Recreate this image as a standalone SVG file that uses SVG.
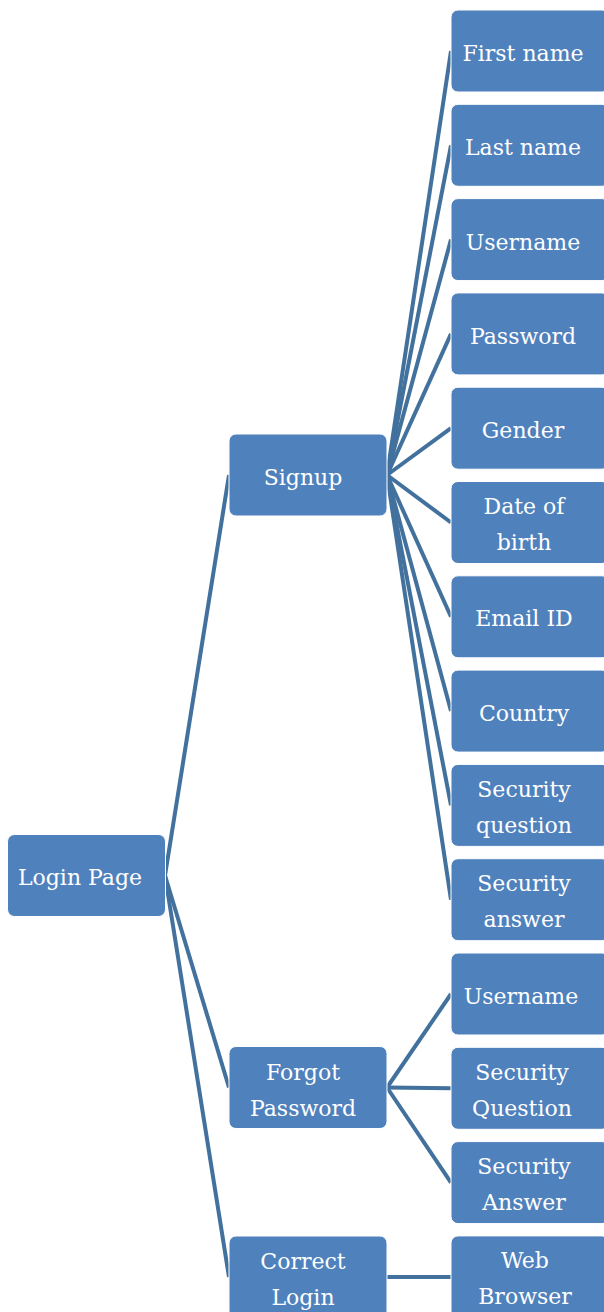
<svg xmlns="http://www.w3.org/2000/svg" width="604" height="1312" viewBox="0 0 604 1312">
<style>
.box{fill:#4F81BD;stroke:#FFFFFF;stroke-width:1}
.t{font-family:"DejaVu Serif","Liberation Serif",serif;font-size:22px;fill:#FFFFFF;text-anchor:middle}
.c{stroke:#41719C;stroke-width:4;fill:none}
</style>
<rect width="604" height="1312" fill="#FFFFFF"/>
<g id="connectors">
<line class="c" x1="165" y1="875.5" x2="229" y2="475"/>
<line class="c" x1="165" y1="875.5" x2="229" y2="1087.5"/>
<line class="c" x1="165" y1="875.5" x2="229" y2="1277"/>
<line class="c" x1="387" y1="475" x2="451" y2="51"/>
<line class="c" x1="387" y1="475" x2="451" y2="145.3"/>
<line class="c" x1="387" y1="475" x2="451" y2="239.6"/>
<line class="c" x1="387" y1="475" x2="451" y2="333.9"/>
<line class="c" x1="387" y1="475" x2="451" y2="428.2"/>
<line class="c" x1="387" y1="475" x2="451" y2="522.5"/>
<line class="c" x1="387" y1="475" x2="451" y2="616.8"/>
<line class="c" x1="387" y1="475" x2="451" y2="711.1"/>
<line class="c" x1="387" y1="475" x2="451" y2="805.4"/>
<line class="c" x1="387" y1="475" x2="451" y2="899.7"/>
<line class="c" x1="387" y1="1087.5" x2="451" y2="994"/>
<line class="c" x1="387" y1="1087.5" x2="451" y2="1088.3"/>
<line class="c" x1="387" y1="1087.5" x2="451" y2="1182.6"/>
<line class="c" x1="387" y1="1277" x2="451" y2="1277"/>
</g>
<g id="login-page"><rect class="box" x="7.5" y="834.5" width="158" height="82" rx="7"/><text class="t" x="80" y="885">Login Page</text></g>
<g id="signup"><rect class="box" x="229" y="434" width="158" height="82" rx="7"/><text class="t" x="303" y="485">Signup</text></g>
<g id="forgot-password"><rect class="box" x="229" y="1046.5" width="158" height="82" rx="7"/><text class="t" x="303" y="1080">Forgot</text><text class="t" x="303" y="1116">Password</text></g>
<g id="correct-login"><rect class="box" x="229" y="1236" width="158" height="82" rx="7"/><text class="t" x="303" y="1269">Correct</text><text class="t" x="303" y="1305">Login</text></g>
<g id="first-name"><rect class="box" x="451" y="10" width="158" height="82" rx="7"/><text class="t" x="523" y="61">First name</text></g>
<g id="last-name"><rect class="box" x="451" y="104.3" width="158" height="82" rx="7"/><text class="t" x="523" y="155.3">Last name</text></g>
<g id="username"><rect class="box" x="451" y="198.6" width="158" height="82" rx="7"/><text class="t" x="523" y="249.6">Username</text></g>
<g id="password"><rect class="box" x="451" y="292.9" width="158" height="82" rx="7"/><text class="t" x="523" y="343.9">Password</text></g>
<g id="gender"><rect class="box" x="451" y="387.2" width="158" height="82" rx="7"/><text class="t" x="523" y="438.2">Gender</text></g>
<g id="date-of-birth"><rect class="box" x="451" y="481.5" width="158" height="82" rx="7"/><text class="t" x="524" y="514">Date of</text><text class="t" x="524" y="550">birth</text></g>
<g id="email-id"><rect class="box" x="451" y="575.8" width="158" height="82" rx="7"/><text class="t" x="524" y="626">Email ID</text></g>
<g id="country"><rect class="box" x="451" y="670.1" width="158" height="82" rx="7"/><text class="t" x="524" y="721">Country</text></g>
<g id="security-question"><rect class="box" x="451" y="764.4" width="158" height="82" rx="7"/><text class="t" x="524" y="797">Security</text><text class="t" x="524" y="833">question</text></g>
<g id="security-answer"><rect class="box" x="451" y="858.7" width="158" height="82" rx="7"/><text class="t" x="524" y="891">Security</text><text class="t" x="524" y="927">answer</text></g>
<g id="fp-username"><rect class="box" x="451" y="953" width="158" height="82" rx="7"/><text class="t" x="521" y="1004">Username</text></g>
<g id="fp-security-question"><rect class="box" x="451" y="1047.3" width="158" height="82" rx="7"/><text class="t" x="522" y="1080">Security</text><text class="t" x="522" y="1116">Question</text></g>
<g id="fp-security-answer"><rect class="box" x="451" y="1141.6" width="158" height="82" rx="7"/><text class="t" x="524" y="1174">Security</text><text class="t" x="524" y="1210">Answer</text></g>
<g id="web-browser"><rect class="box" x="451" y="1235.9" width="158" height="82" rx="7"/><text class="t" x="525" y="1268">Web</text><text class="t" x="525" y="1304">Browser</text></g>
</svg>
